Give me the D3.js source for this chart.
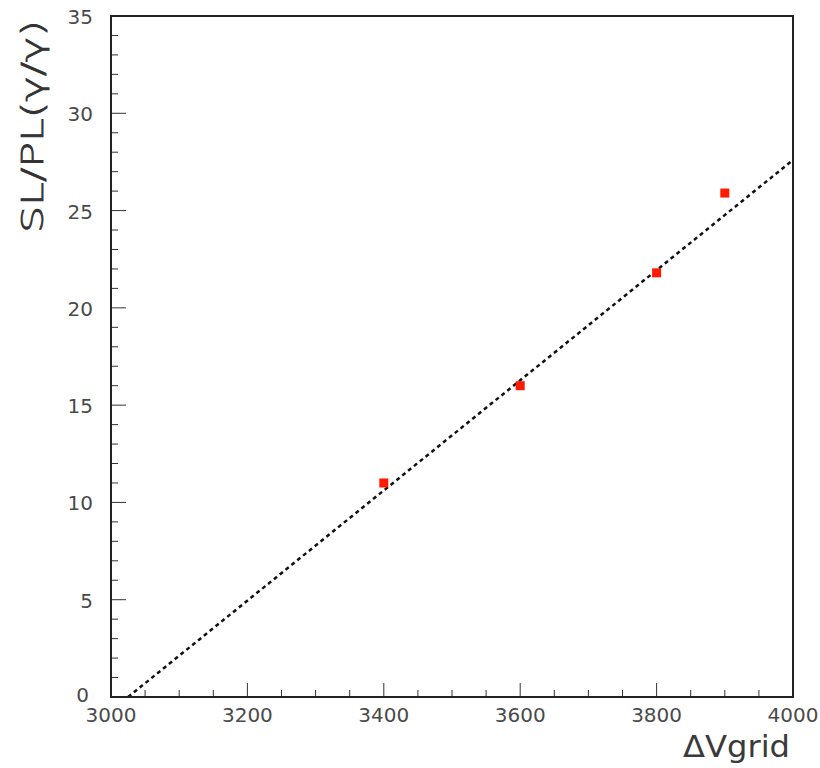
<!DOCTYPE html>
<html><head><meta charset="utf-8">
<script src="https://cdn.jsdelivr.net/npm/d3@7"></script>
<style>body{margin:0;background:#fff}</style>
</head><body>
<script>
const xVals = [3400, 3600, 3800, 3900];
const yVals = [11, 16, 21.8, 25.9];
const fitX = [3025, 4000];
const fitY = [0, 27.6];
const xTicks = [3000, 3200, 3400, 3600, 3800, 4000];
const yTicks = [0, 5, 10, 15, 20, 25, 30, 35];
const xTitle = "ΔVgrid";
const yTitle = "SL/PL(γ/γ)";

const W = 820, H = 768;
const L = 111, R = 793, T = 16, B = 697;
const svg = d3.select("body").append("svg").attr("width", W).attr("height", H);
const x = d3.scaleLinear().domain([3000, 4000]).range([L, R]);
const y = d3.scaleLinear().domain([0, 35]).range([B, T]);
const font = "'DejaVu Sans', sans-serif";

// ticks (inside the frame)
const xMinor = d3.range(3000, 4001, 50);
const yMinor = d3.range(0, 35.01, 1);
const g = svg.append("g");
g.selectAll(".xm").data(xMinor).enter().append("line")
  .attr("x1", d => x(d)).attr("x2", d => x(d))
  .attr("y1", B).attr("y2", d => B - (d % 200 === 0 ? 14 : 7))
  .attr("stroke", "#333").attr("stroke-width", 1);
g.selectAll(".ym").data(yMinor).enter().append("line")
  .attr("y1", d => y(d)).attr("y2", d => y(d))
  .attr("x1", L).attr("x2", d => L + (d % 5 === 0 ? 15 : 7))
  .attr("stroke", "#333").attr("stroke-width", 1);

// tick labels
svg.selectAll(".xl").data(xTicks).enter().append("text")
  .attr("x", d => x(d)).attr("y", 722)
  .attr("text-anchor", "middle").attr("font-family", font).attr("font-size", 20)
  .attr("fill", "#4a4a4a").text(d => d);
svg.selectAll(".yl").data(yTicks).enter().append("text")
  .attr("x", d => d === 0 ? 89 : 93).attr("y", d => y(d) + (d === 0 ? 5 : 8))
  .attr("text-anchor", "end").attr("font-family", font).attr("font-size", 20)
  .attr("fill", "#4a4a4a").text(d => d);

// fit line
svg.append("line")
  .attr("x1", x(fitX[0])).attr("y1", y(fitY[0]))
  .attr("x2", x(fitX[1])).attr("y2", y(fitY[1]))
  .attr("stroke", "#111").attr("stroke-width", 2.5).attr("stroke-dasharray", "4,3.5");

// points
svg.selectAll(".pt").data(xVals).enter().append("rect")
  .attr("x", (d) => x(d) - 4.5).attr("y", (d, i) => y(yVals[i]) - 4.5)
  .attr("width", 9).attr("height", 9).attr("fill", "#ff1a00");

// frame
svg.append("rect").attr("x", L).attr("y", T).attr("width", R - L).attr("height", B - T)
  .attr("fill", "none").attr("stroke", "#222").attr("stroke-width", 2);

// titles
svg.append("text").attr("x", 790).attr("y", 757).attr("text-anchor", "end")
  .attr("font-family", font).attr("font-size", 30).attr("fill", "#3a3a3a")
  .attr("textLength", 107).attr("lengthAdjust", "spacingAndGlyphs").text(xTitle);
svg.append("text").attr("transform", "translate(43,20) rotate(-90)")
  .attr("text-anchor", "end").attr("font-family", font).attr("font-size", 31)
  .attr("font-weight", 200).attr("stroke", "#333").attr("stroke-width", 0.8)
  .attr("fill", "#333").attr("textLength", 213).attr("lengthAdjust", "spacingAndGlyphs")
  .text(yTitle);
</script>
</body></html>
